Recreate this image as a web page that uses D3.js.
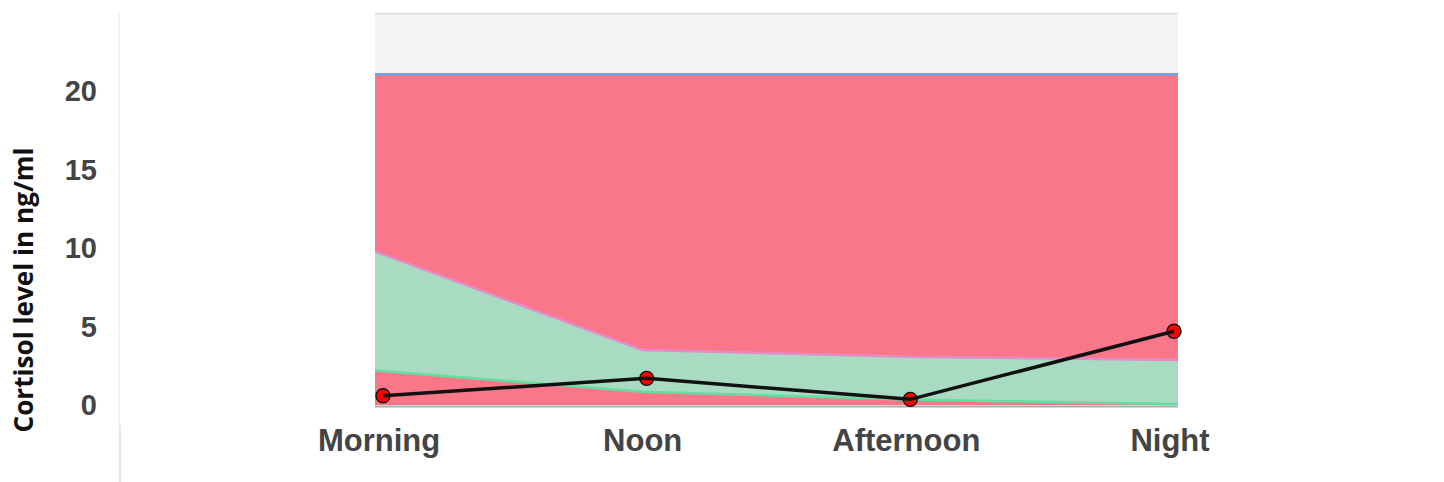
<!DOCTYPE html>
<html>
<head>
<meta charset="utf-8">
<script src="https://cdn.jsdelivr.net/npm/d3@7"></script>
<style>
  html, body { margin: 0; padding: 0; background: #fff; }
  svg { display: block; }
</style>
</head>
<body>
<svg id="chart" width="1444" height="482"></svg>
<script>
// ---- data ----
const categories = ["Morning", "Noon", "Afternoon", "Night"];
const lowLimit   = [2.2, 0.85, 0.35, 0.05];   // top of lower (red) band
const highLimit  = [9.8, 3.5, 3.08, 2.87];    // top of normal (green) band
const maxLimit   = [21.1, 21.1, 21.1, 21.1];  // top of upper (red) band
const cortisol   = [0.59, 1.70, 0.36, 4.70];  // measured values
const yTicks     = [0, 5, 10, 15, 20];
const yTitle     = "Cortisol level in ng/ml";

// ---- layout ----
const svg = d3.select("#chart");
const plot = { left: 375, right: 1178, top: 13, bottom: 405 };

const y = d3.scaleLinear().domain([0, 25]).range([plot.bottom, plot.top]);
const xArea = d3.scaleLinear().domain([0, categories.length - 1]).range([plot.left, plot.right]);
const xPt = d3.scaleLinear().domain([0, categories.length - 1]).range([383, 1174]);

// faint vertical separator at left
svg.append("line").attr("x1", 119).attr("x2", 119).attr("y1", 12).attr("y2", 425)
  .attr("stroke", "#efefef").attr("stroke-width", 1.5);
svg.append("line").attr("x1", 120).attr("x2", 120).attr("y1", 425).attr("y2", 482)
  .attr("stroke", "#dcdcdc").attr("stroke-width", 1.5);

// plot background
svg.append("rect").attr("x", plot.left).attr("y", plot.top)
  .attr("width", plot.right - plot.left).attr("height", plot.bottom - plot.top)
  .attr("fill", "#f3f3f3");
svg.append("line").attr("x1", plot.left).attr("x2", plot.right)
  .attr("y1", plot.top + 0.5).attr("y2", plot.top + 0.5)
  .attr("stroke", "#dadada").attr("stroke-width", 1.5);

const idx = d3.range(categories.length);
const bands = [
  { lo: idx.map(() => 0), hi: lowLimit, fill: "#f97789", line: "#5fe0a2" },
  { lo: lowLimit, hi: highLimit, fill: "#a8dbc1", line: "#e68ac8" },
  { lo: highLimit, hi: maxLimit, fill: "#f97789", line: "#6fa3e6" }
];

bands.forEach(b => {
  const area = d3.area()
    .x(i => xArea(i))
    .y0(i => y(b.lo[i]))
    .y1(i => y(b.hi[i]));
  svg.append("path").datum(idx).attr("d", area).attr("fill", b.fill);
});
bands.forEach(b => {
  const ln = d3.line().x(i => xArea(i)).y(i => y(b.hi[i]));
  svg.append("path").datum(idx).attr("d", ln)
    .attr("fill", "none").attr("stroke", b.line).attr("stroke-width", 2.5);
});

// bottom axis line
svg.append("line").attr("x1", plot.left).attr("x2", plot.right)
  .attr("y1", plot.bottom + 1.5).attr("y2", plot.bottom + 1.5)
  .attr("stroke", "#ababab").attr("stroke-width", 2);

// measured series: markers then line
svg.selectAll("circle.pt").data(idx).enter().append("circle")
  .attr("class", "pt")
  .attr("cx", i => xPt(i)).attr("cy", i => y(cortisol[i]))
  .attr("r", 7).attr("fill", "#ff0000").attr("stroke", "#111").attr("stroke-width", 1.4);
svg.append("path").datum(idx)
  .attr("d", d3.line().x(i => xPt(i)).y(i => y(cortisol[i])))
  .attr("fill", "none").attr("stroke", "#111").attr("stroke-width", 3.5);

// y tick labels
svg.selectAll("text.ytick").data(yTicks).enter().append("text")
  .attr("class", "ytick")
  .attr("x", 97).attr("y", d => y(d) + 10)
  .attr("text-anchor", "end")
  .attr("font-family", "'Liberation Sans', Arial, sans-serif")
  .attr("font-weight", "bold").attr("font-size", 29)
  .attr("fill", "#444")
  .text(d => d);

// x category labels
svg.selectAll("text.xtick").data(idx).enter().append("text")
  .attr("class", "xtick")
  .attr("x", i => xPt(i) - 4).attr("y", 451)
  .attr("text-anchor", "middle")
  .attr("font-family", "'Liberation Sans', Arial, sans-serif")
  .attr("font-weight", "bold").attr("font-size", 31)
  .attr("fill", "#444")
  .text(i => categories[i]);

// y axis title
svg.append("text")
  .attr("transform", "translate(33,290) rotate(-90)")
  .attr("text-anchor", "middle")
  .attr("font-family", "'Open Sans', 'Noto Sans', sans-serif")
  .attr("font-weight", "bold").attr("font-size", 27)
  .attr("textLength", 285).attr("lengthAdjust", "spacingAndGlyphs")
  .attr("fill", "#111")
  .text(yTitle);
</script>
</body>
</html>
